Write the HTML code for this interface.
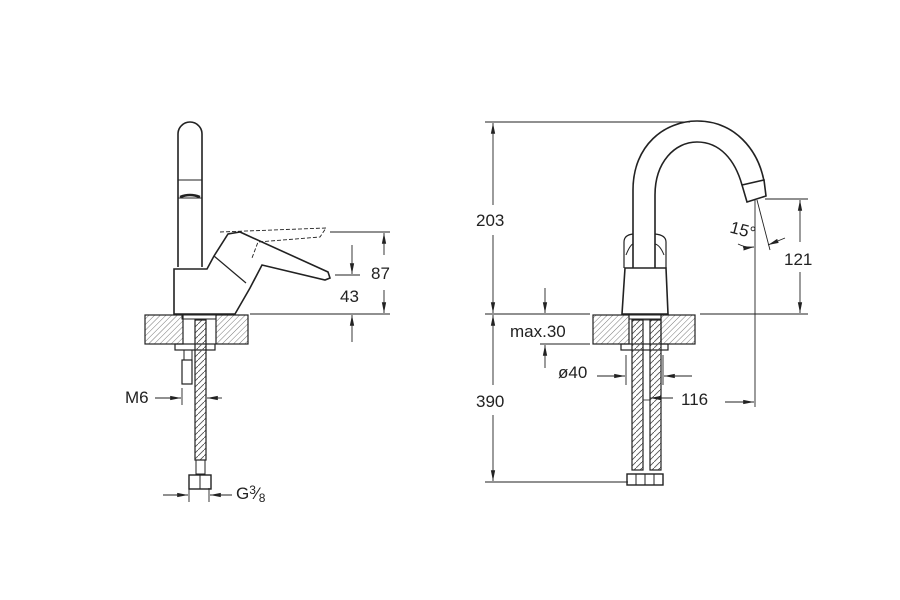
<!DOCTYPE html>
<html><head><style>body{margin:0;background:#fff}svg{display:block}text{font-family:"Liberation Sans",sans-serif;font-size:17px;fill:#222}</style></head><body>
<svg width="900" height="600" viewBox="0 0 900 600" xmlns="http://www.w3.org/2000/svg">
<defs>
<pattern id="h" width="4" height="4" patternUnits="userSpaceOnUse" patternTransform="rotate(45)"><line x1="0" y1="0" x2="0" y2="4" stroke="#555" stroke-width="0.8"/></pattern>
<pattern id="hx" width="6" height="6" patternUnits="userSpaceOnUse"><path d="M0,6 L6,0" stroke="#555" stroke-width="0.9"/></pattern>
<marker id="a" viewBox="0 0 10 10" refX="10" refY="5" markerWidth="12" markerHeight="12" orient="auto-start-reverse"><path d="M0,3 L10,5 L0,7z" fill="#222"/></marker>
</defs>
<g fill="none" stroke="#222" stroke-width="1.6">
<path d="M178,267 L178,134 A12,12 0 0 1 202,134 L202,267"/>
<rect x="178" y="180" width="24" height="18" stroke-width="1"/>
<path d="M180,197 Q190,193 200,197" stroke-width="2.5"/>
<path d="M174,314 L174,269 L207,269 L214,256 L228,234 L240,232 L328,272 L330,278 L325,280 L262,265 L250,288 L235,314 Z"/>
<path d="M214,256 L246,283" stroke-width="1.2"/>
<path d="M220,232 L326,228 L320,237 L258,242 L252,258" stroke-dasharray="4,2" stroke-width="0.9"/>
<rect x="145" y="315" width="38" height="29" fill="url(#h)" stroke-width="1.2"/>
<rect x="216" y="315" width="32" height="29" fill="url(#h)" stroke-width="1.2"/>
<rect x="182" y="315" width="34" height="4" stroke-width="1"/>
<rect x="175" y="344" width="40" height="6" stroke-width="1.2"/>
<rect x="184" y="350" width="8" height="10" stroke-width="1"/>
<rect x="182" y="360" width="10" height="24" stroke-width="1.2"/>
<rect x="195" y="320" width="11" height="140" fill="url(#hx)" stroke-width="1.2"/>
<rect x="196" y="460" width="9" height="14" stroke-width="1"/>
<rect x="189" y="475" width="22" height="14" stroke-width="1.4"/>
<line x1="200" y1="475" x2="200" y2="489" stroke-width="1"/>
</g>
<g stroke="#222" stroke-width="0.9" fill="none">
<line x1="330" y1="232" x2="390" y2="232"/>
<line x1="250" y1="314" x2="390" y2="314"/>
<line x1="335" y1="275" x2="360" y2="275"/>
<line x1="384" y1="255" x2="384" y2="233" marker-end="url(#a)"/>
<line x1="384" y1="290" x2="384" y2="313" marker-end="url(#a)"/>
<line x1="352" y1="245" x2="352" y2="274" marker-end="url(#a)"/>
<line x1="352" y1="342" x2="352" y2="315" marker-end="url(#a)"/>
<line x1="155" y1="398" x2="181" y2="398" marker-end="url(#a)"/>
<line x1="182" y1="388" x2="182" y2="405"/>
<line x1="222" y1="398" x2="207" y2="398" marker-end="url(#a)"/>
<line x1="163" y1="495" x2="188" y2="495" marker-end="url(#a)"/>
<line x1="189" y1="488" x2="189" y2="502"/><line x1="209" y1="488" x2="209" y2="502"/>
<line x1="232" y1="495" x2="210" y2="495" marker-end="url(#a)"/>
</g>
<text x="371" y="279">87</text><text x="340" y="302">43</text>
<text x="125" y="403">M6</text>
<text x="236" y="499">G<tspan font-size="12" dy="-5">3</tspan><tspan dy="5">⁄</tspan><tspan font-size="12" dy="3">8</tspan></text>

<g fill="none" stroke="#222" stroke-width="1.6">
<path d="M633,268 L633,190 C633,145 665,121 697,121 C735,121 758,150 764,181"/>
<path d="M655,268 L655,195 C655,162 675,142 697,142 C720,142 735,160 742,185"/>
<path d="M742,185 L764,180 L766,196 L747,202 Z"/>
<path d="M624,268 L624,242 Q624,235 633,234 M666,268 L666,242 Q666,235 655,234" stroke-width="1.2"/>
<path d="M626,255 Q630,245 633,244 M664,255 Q660,245 655,244" stroke-width="1"/>
<path d="M622,314 L625,268 L666,268 L668,314 Z"/>
<rect x="593" y="315" width="36" height="29" fill="url(#h)" stroke-width="1.2"/>
<rect x="661" y="315" width="34" height="29" fill="url(#h)" stroke-width="1.2"/>
<rect x="629" y="315" width="32" height="4" stroke-width="1"/>
<rect x="621" y="344" width="47" height="6" stroke-width="1.2"/>
<rect x="632" y="320" width="11" height="150" fill="url(#hx)" stroke-width="1.2"/>
<rect x="650" y="320" width="11" height="150" fill="url(#hx)" stroke-width="1.2"/>
<rect x="643" y="320" width="7" height="80" stroke-width="0.8"/>
<rect x="627" y="474" width="36" height="11" stroke-width="1.4"/>
<path d="M636,474 V485 M645,474 V485 M654,474 V485" stroke-width="1"/>
</g>
<g stroke="#222" stroke-width="0.9" fill="none">
<line x1="485" y1="122" x2="690" y2="122"/>
<line x1="485" y1="314" x2="590" y2="314"/>
<line x1="700" y1="314" x2="808" y2="314"/>
<line x1="485" y1="482" x2="628" y2="482"/>
<line x1="493" y1="205" x2="493" y2="123" marker-end="url(#a)"/>
<line x1="493" y1="235" x2="493" y2="313" marker-end="url(#a)"/>
<line x1="493" y1="385" x2="493" y2="315" marker-end="url(#a)"/>
<line x1="493" y1="415" x2="493" y2="481" marker-end="url(#a)"/>
<line x1="765" y1="199" x2="808" y2="199"/>
<line x1="800" y1="242" x2="800" y2="200" marker-end="url(#a)"/>
<line x1="800" y1="272" x2="800" y2="313" marker-end="url(#a)"/>
<line x1="755" y1="200" x2="755" y2="407"/>
<line x1="757" y1="200" x2="770" y2="250"/>
<path d="M738,244 Q746,248 754,247" marker-end="url(#a)"/>
<line x1="785" y1="238" x2="768" y2="245" marker-end="url(#a)"/>
<line x1="545" y1="288" x2="545" y2="313" marker-end="url(#a)"/>
<line x1="540" y1="344" x2="590" y2="344"/>
<line x1="545" y1="368" x2="545" y2="345" marker-end="url(#a)"/>
<line x1="626" y1="355" x2="626" y2="385"/><line x1="663" y1="355" x2="663" y2="385"/>
<line x1="597" y1="376" x2="625" y2="376" marker-end="url(#a)"/>
<line x1="692" y1="376" x2="664" y2="376" marker-end="url(#a)"/>
<line x1="673" y1="398" x2="650" y2="398" marker-end="url(#a)"/>
<line x1="725" y1="402" x2="754" y2="402" marker-end="url(#a)"/>
</g>
<text x="476" y="226">203</text><text x="476" y="407">390</text>
<text x="784" y="265">121</text>
<text x="730" y="235" transform="rotate(15 740 230)">15°</text>
<text x="510" y="337">max.30</text>
<text x="558" y="378">ø40</text>
<text x="681" y="405">116</text>
</svg>
</body></html>
